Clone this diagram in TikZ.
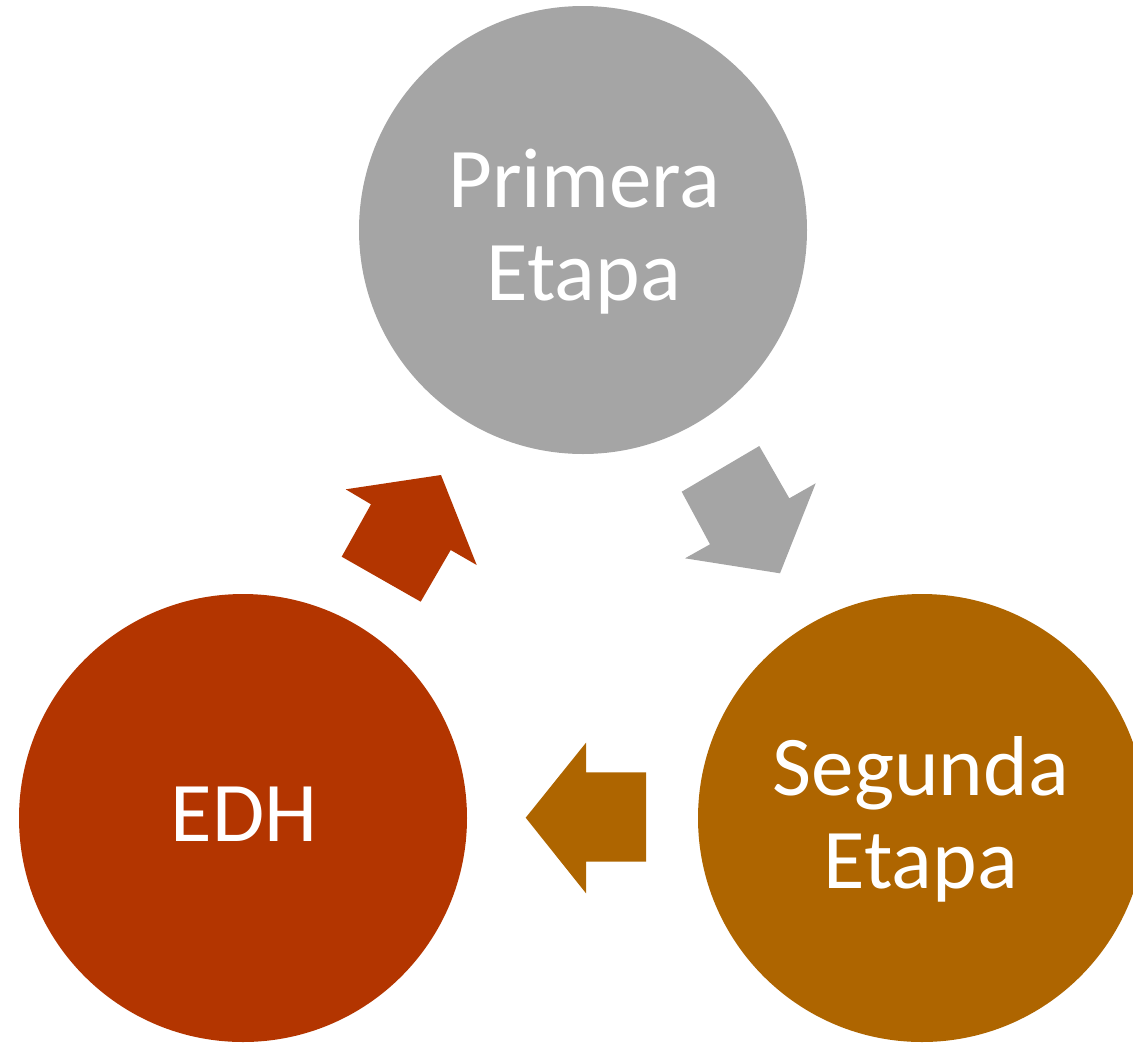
\documentclass[tikz,border=0pt]{standalone}
\usepackage{fontspec}
\setmainfont{Carlito}
\definecolor{cgray}{HTML}{A5A5A5}
\definecolor{cred}{HTML}{B33500}
\definecolor{corange}{HTML}{AE6500}
\begin{document}
\begin{tikzpicture}[x=1pt,y=-1pt,
  stage/.style={circle,minimum size=448pt,inner sep=0pt,fill=#1},
  lbl/.style={text=white,font=\fontsize{85}{93}\selectfont,anchor=base,inner sep=0pt}]
\useasboundingbox (0,0) rectangle (1133,1045);
\begin{scope}
\clip (0,0) rectangle (1133,1045);
\node[stage=cgray] (top) at (583,230) {};
\node[stage=cred] (left) at (243,818) {};
\node[stage=corange] (right) at (922,818) {};
\end{scope}
\node[lbl] (t1) at (584,207) {Primera};
\node[lbl] (t2) at (584,300) {Etapa};
\node[lbl] (r1) at (921,795) {Segunda};
\node[lbl] (r2) at (921,888) {Etapa};
\node[lbl] (l1) at (244,841) {EDH};
\fill[cgray] (681.7,491.7) -- (759.3,446) -- (789.3,498.3) -- (815.7,483.3) -- (780,573.3) -- (685,558.3) -- (710,544.3) -- cycle;
\fill[cred] (345.7,489.3) -- (441,475) -- (476.7,565) -- (450.7,550) -- (420.7,601.7) -- (341.7,556.7) -- (371,504.3) -- cycle;
\fill[corange] (586,742.7) -- (586,772.3) -- (646,772.3) -- (646,861.7) -- (586,861.7) -- (586,893.3) -- (525.7,817.7) -- cycle;
\end{tikzpicture}
\end{document}
